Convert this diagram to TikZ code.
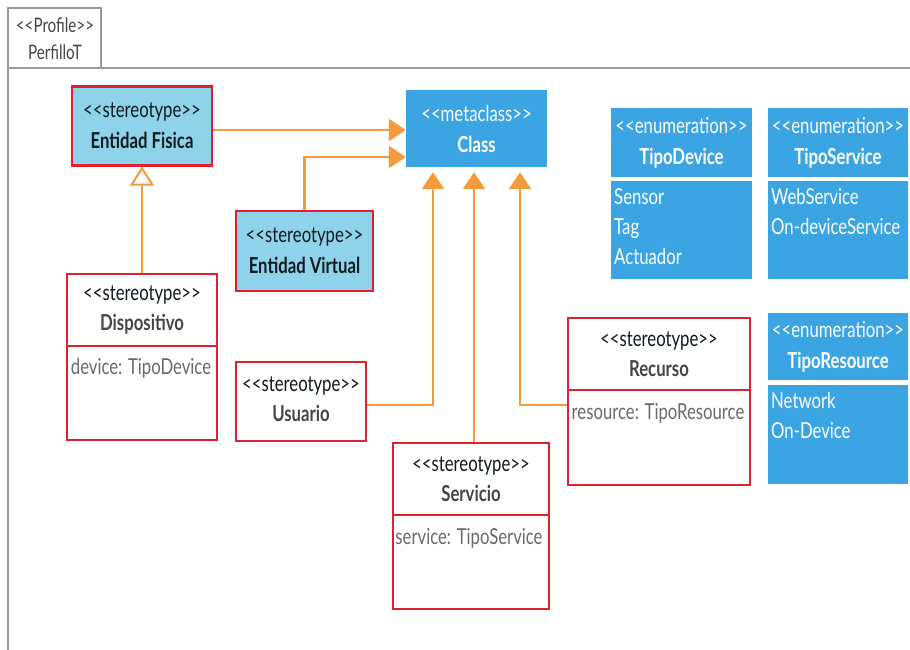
\documentclass[tikz,border=0pt]{standalone}
\usepackage{fontspec}
\setmainfont{Lato}[Ligatures=TeXOff, FakeStretch=0.76]
\usetikzlibrary{arrows.meta}
\definecolor{lblue}{HTML}{8ED3EA}
\definecolor{cblue}{HTML}{3AA5E2}
\definecolor{rborder}{HTML}{E0202C}
\definecolor{orng}{HTML}{F39A3B}
\definecolor{frame}{HTML}{9A9A9A}
\definecolor{dtext}{HTML}{111A20}
\definecolor{gtext}{HTML}{454545}
\definecolor{atext}{HTML}{6A6A6A}
\tikzset{
  stbox/.style={draw=rborder, line width=2.2pt, fill=lblue, inner sep=0pt, align=center, text=dtext, font=\fontsize{22}{31}\selectfont},
  wbox/.style={draw=rborder, line width=2.2pt, fill=white, inner sep=0pt},
  mbox/.style={fill=cblue, inner sep=0pt, align=center, text=white, font=\fontsize{22}{31}\selectfont},
  txt/.style={inner sep=0pt, align=center, font=\fontsize{22}{30}\selectfont},
  attr/.style={inner sep=0pt, align=left, text=atext, font=\fontsize{22}{30}\selectfont},
  conn/.style={draw=orng, line width=2.6pt},
  ftip/.style={-{Triangle[width=22pt,length=17pt]}},
  otip/.style={-{Triangle[open,width=24pt,length=19pt,fill=white]}},
}
\begin{document}
\begin{tikzpicture}[x=1pt,y=-1pt]
\useasboundingbox (0,0) rectangle (910,650);
% frame
\draw[frame, line width=2pt] (8,68) rectangle (101,8);
\draw[frame, line width=2pt] (8,650) -- (8,68) -- (911,68);
\node[txt, text=gtext, font=\fontsize{20}{27}\selectfont] (prof) at (55,39) {<<Profile>>\\PerfilloT};

% Entidad Fisica
\node[stbox, minimum width=140pt, minimum height=79pt] (ef) at (142,126) {<<stereotype>>\\\textbf{Entidad Fisica}};
% Class
\node[mbox, minimum width=141pt, minimum height=77pt] (cls) at (476.5,128.5) {<<metaclass>>\\\textbf{Class}};
% Entidad Virtual
\node[stbox, minimum width=137pt, minimum height=80pt] (ev) at (304.5,251) {<<stereotype>>\\\textbf{Entidad Virtual}};

% Dispositivo
\node[wbox, minimum width=150pt, minimum height=166pt] (disp) at (142,357) {};
\draw[rborder, line width=2.2pt] (disp.west |- 0,346) -- (disp.east |- 0,346);
\node[txt, text=dtext] (dispH) at (142,310) {<<stereotype>>\\\textcolor{gtext}{\textbf{Dispositivo}}};
\node[attr] (dispA) at (141,368) {device: TipoDevice};

% Usuario
\node[wbox, minimum width=130pt, minimum height=79pt] (usr) at (301,401.5) {};
\node[txt, text=dtext] (usrH) at (301,399) {<<stereotype>>\\\textcolor{gtext}{\textbf{Usuario}}};

% Servicio
\node[wbox, minimum width=156pt, minimum height=166pt] (serv) at (471,526) {};
\draw[rborder, line width=2.2pt] (serv.west |- 0,515) -- (serv.east |- 0,515);
\node[txt, text=dtext] (servH) at (471,479) {<<stereotype>>\\\textcolor{gtext}{\textbf{Servicio}}};
\node[attr] (servA) at (469,538) {service: TipoService};

% Recurso
\node[wbox, minimum width=182pt, minimum height=167pt] (rec) at (659,401.5) {};
\draw[rborder, line width=2.2pt] (rec.west |- 0,390) -- (rec.east |- 0,390);
\node[txt, text=dtext] (recH) at (659,354) {<<stereotype>>\\\textcolor{gtext}{\textbf{Recurso}}};
\node[attr] (recA) at (658,413) {resource: TipoResource};

% Enumerations
\node[mbox, minimum width=141pt, minimum height=69pt] (tdH) at (681.5,142.5) {<<enumeration>>\\\textbf{TipoDevice}};
\node[mbox, minimum width=141pt, minimum height=98pt] (tdB) at (681.5,230) {};
\node[attr, text=white, anchor=north west] (tdT) at (614,188) {Sensor\\Tag\\Actuador};

\node[mbox, minimum width=140pt, minimum height=69pt] (tsH) at (838,142.5) {<<enumeration>>\\\textbf{TipoService}};
\node[mbox, minimum width=140pt, minimum height=98pt] (tsB) at (838,230) {};
\node[attr, text=white, anchor=north west] (tsT) at (771,188) {WebService\\On-deviceService};

\node[mbox, minimum width=140pt, minimum height=67pt] (trH) at (838,346.5) {<<enumeration>>\\\textbf{TipoResource}};
\node[mbox, minimum width=140pt, minimum height=99pt] (trB) at (838,434.5) {};
\node[attr, text=white, anchor=north west] (trT) at (771,392) {Network\\On-Device};

% Connectors
\draw[conn, ftip] (ef.east |- 0,130) -- (cls.west |- 0,130);
\draw[conn, ftip] (ev.north) |- (cls.west |- 0,157);
\draw[conn, ftip, shorten >=5pt] (usr.east |- 0,405) -| (cls.south -| 433,0);
\draw[conn, ftip, shorten >=5pt] (serv.north -| 474,0) -- (cls.south -| 474,0);
\draw[conn, ftip, shorten >=5pt] (rec.west |- 0,405) -| (cls.south -| 520,0);
\draw[conn, line width=2pt, otip] (disp.north) -- (ef.south);
\end{tikzpicture}
\end{document}
